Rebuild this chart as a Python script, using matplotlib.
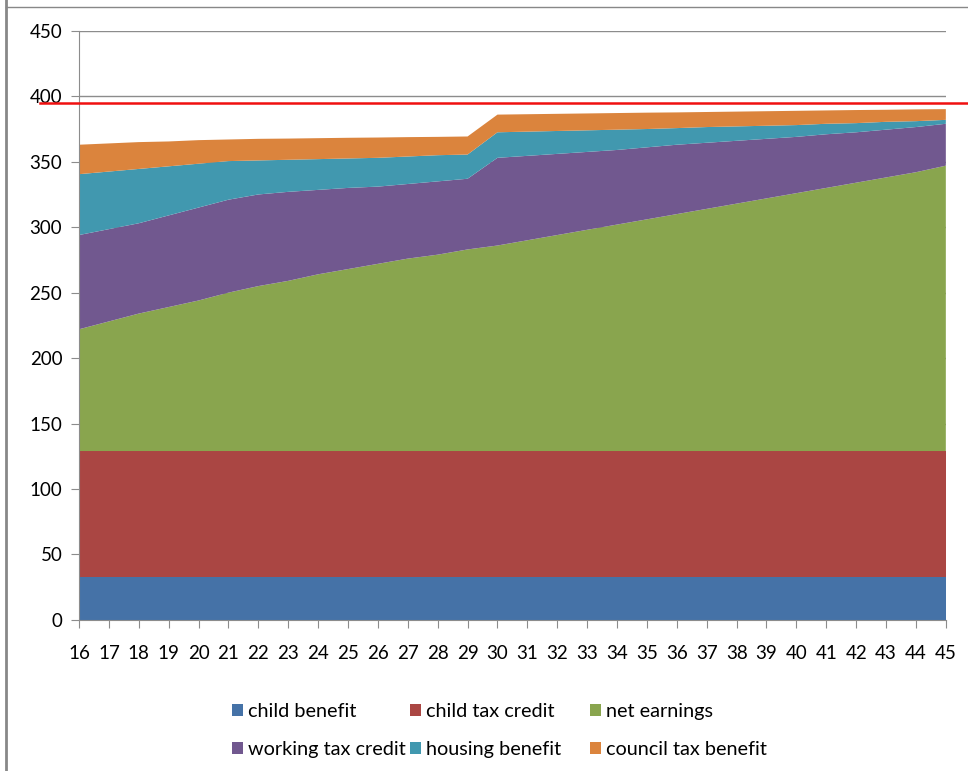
import numpy as np
import matplotlib
matplotlib.use("Agg")
import matplotlib.pyplot as plt
from matplotlib.patches import Patch
from matplotlib.lines import Line2D

plt.rcParams["font.family"] = ["Lato", "DejaVu Sans"]

ages = list(range(16, 46))

child_benefit = [33] * 30
child_tax_credit = [96] * 30
net_earnings = [93, 99, 105, 110, 115, 121, 126, 130, 135, 139,
                143, 147, 150, 154, 157, 161, 165, 169, 173, 177,
                181, 185, 189, 193, 197, 201, 205, 209, 213, 218]
working_tax_credit = [72, 70.5, 69, 70, 71, 71, 70, 68, 64.5, 62,
                      59, 57, 56, 54, 67, 64.5, 62, 59.5, 57, 55,
                      53, 50.5, 48, 45.5, 43, 41, 38.5, 36.5, 34.5, 32]
housing_benefit = [46.5, 44, 41.5, 37.5, 33.5, 29.5, 26, 24.5, 23.5, 22.5,
                   22, 21, 20, 18.5, 19.5, 18.5, 17.5, 16.5, 15.5, 14,
                   12.7, 12, 11, 10, 9, 8, 7, 6, 4.5, 3]
council_tax_benefit = [22.5, 21.5, 20.5, 19, 18, 16.5, 16.5, 16.2, 16, 15.8,
                       15.5, 14.8, 14, 13.8, 13.5, 13.3, 13.1, 12.9, 12.7, 12.5,
                       12, 11.5, 11.3, 11.1, 10.9, 10.2, 10, 9.2, 9, 8.2]

labels = ["child benefit", "child tax credit", "net earnings",
          "working tax credit", "housing benefit", "council tax benefit"]
colors = ["#4572A7", "#AA4643", "#89A54E", "#71588F", "#4198AF", "#DB843D"]

threshold = 394.5
threshold_span = (14.7, 46.2)

fig = plt.figure(figsize=(9.68, 7.71), dpi=100)
ax = fig.add_axes([0.0816, 0.196, 0.8955, 0.764])

ax.stackplot(ages, child_benefit, child_tax_credit, net_earnings,
             working_tax_credit, housing_benefit, council_tax_benefit,
             colors=colors, linewidth=0, zorder=2)

ax.plot(threshold_span, [threshold, threshold], color="#F01010", lw=1.8,
        clip_on=False, zorder=5)

ax.set_xlim(16, 45)
ax.set_ylim(0, 450)
ax.set_yticks(range(0, 451, 50))
ax.set_xticks(ages)
ax.grid(axis="y", color="#8C8C8C", lw=1.0, zorder=1)
ax.set_axisbelow(True)
for s in ["top", "right"]:
    ax.spines[s].set_visible(False)
for s in ["left", "bottom"]:
    ax.spines[s].set_color("#8C8C8C")
ax.tick_params(axis="both", colors="#8C8C8C", length=6, labelsize=13.5,
               labelcolor="black")
ax.tick_params(axis="x", pad=12)
ax.tick_params(axis="y", pad=6)

# legend: three columns of two rows, equally spaced like the original
handles = [Patch(facecolor=c, edgecolor="none") for c in colors]
col_x = [0.240, 0.424, 0.610]
for j, x0 in enumerate(col_x):
    idx = [j, j + 3]
    fig.legend([handles[i] for i in idx], [labels[i] for i in idx],
               loc="upper left", bbox_to_anchor=(x0, 0.088),
               bbox_transform=fig.transFigure, frameon=False,
               fontsize=14.3, handlelength=0.52, handleheight=0.52,
               handletextpad=0.25, labelspacing=1.05, borderpad=0,
               borderaxespad=0)

# frame lines of the surrounding page
fig.add_artist(Line2D([0.006, 0.006], [0, 1], color="#888888", lw=2))
fig.add_artist(Line2D([0.006, 1], [0.991, 0.991], color="#888888", lw=1))

plt.savefig("out.png", dpi=100)
plt.close()
